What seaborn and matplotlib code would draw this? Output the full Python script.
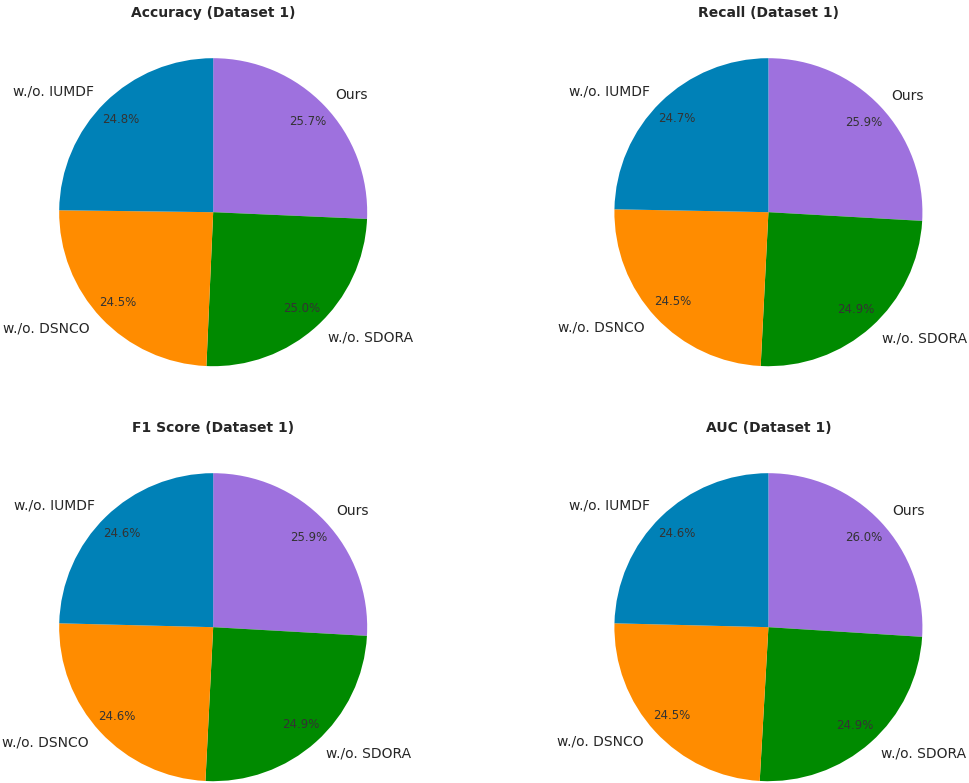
import matplotlib
matplotlib.use('Agg')
import matplotlib.pyplot as plt
import seaborn as sns

# Dados (percentuais)
modelos = ['Ours', 'w./o. SDORA', 'w./o. DSNCO', 'w./o. IUMDF']
cores = ['#9e71de', '#008a00', '#ff8c00', '#0081b7']

titulos = ['Accuracy (Dataset 1)', 'Recall (Dataset 1)', 'F1 Score (Dataset 1)', 'AUC (Dataset 1)']
accuracy = [25.7, 25.0, 24.5, 24.8]
recall = [25.9, 24.9, 24.5, 24.7]
f1_score = [25.9, 24.9, 24.6, 24.6]
auc = [26.0, 24.9, 24.5, 24.6]

sns.set_theme(style='white')
plt.rcParams['font.family'] = ['DejaVu Sans']

fig = plt.figure(figsize=(9.69, 7.83), dpi=100)

centros_x = [0.22, 0.793]
centros_y = [0.729, 0.199]
largura = 385 / 969
altura = 385 / 783

valores = [accuracy, recall, f1_score, auc]
for i, (titulo, dados) in enumerate(zip(titulos, valores)):
    cx = centros_x[i % 2]
    cy = centros_y[i // 2]
    ax = fig.add_axes([cx - largura / 2, cy - altura / 2, largura, altura])
    wedges, textos, pcts = ax.pie(dados, labels=modelos, colors=cores, autopct='%1.1f%%',
                                  startangle=90, counterclock=False, pctdistance=0.85,
                                  labeldistance=1.1, wedgeprops={'linewidth': 0},
                                  textprops={'fontsize': 10, 'color': '#262626'})
    for p in pcts:
        p.set_fontsize(8.5)
        p.set_color('#333333')
    ax.set_title(titulo, fontsize=10, fontweight='bold', pad=2, color='#262626')
    ax.set_aspect('equal')

fig.savefig('out.png', dpi=100)
